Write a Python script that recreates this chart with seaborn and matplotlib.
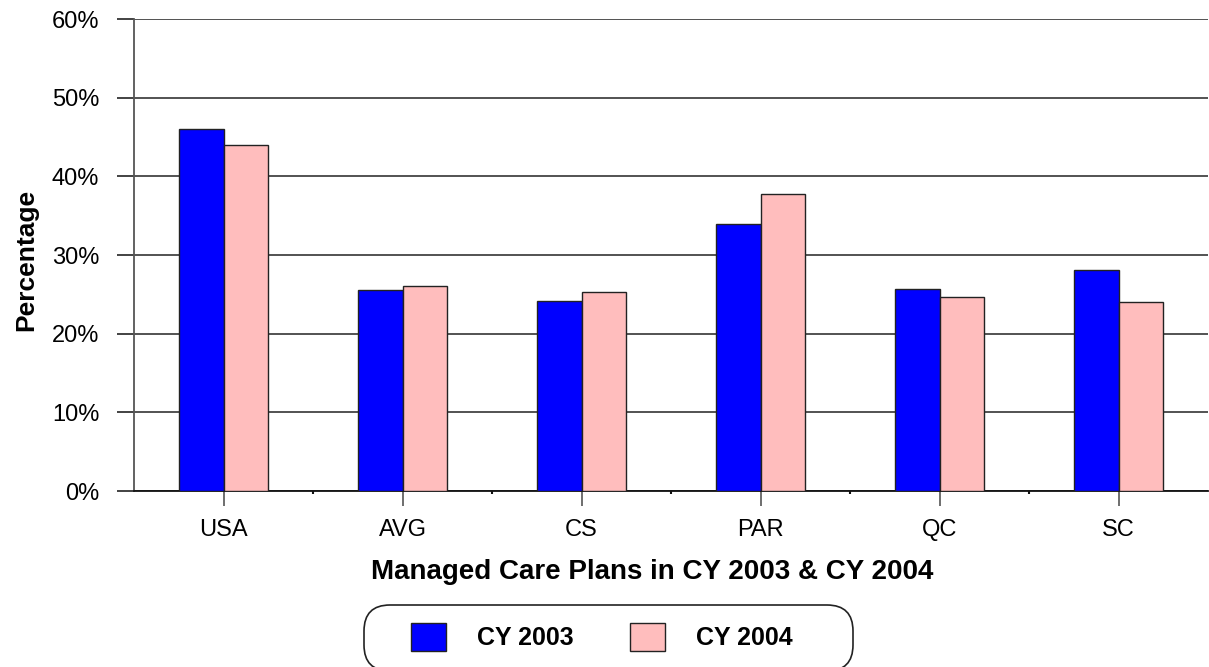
import pandas as pd
import seaborn as sns
import matplotlib.pyplot as plt
from matplotlib.ticker import PercentFormatter, FixedLocator
from matplotlib.patches import FancyBboxPatch
from matplotlib.transforms import IdentityTransform

plans = ["USA", "AVG", "CS", "PAR", "QC", "SC"]
cy2003 = [46.0, 25.6, 24.2, 34.0, 25.7, 28.1]
cy2004 = [44.0, 26.1, 25.3, 37.7, 24.7, 24.0]
years = ["CY 2003", "CY 2004"]

data = pd.DataFrame({
    "plan": plans * 2,
    "year": [years[0]] * len(plans) + [years[1]] * len(plans),
    "pct": cy2003 + cy2004,
})

sns.set_style("white")
plt.rcParams["font.family"] = ["Liberation Sans", "DejaVu Sans"]
plt.rcParams["text.color"] = "black"
plt.rcParams["axes.labelcolor"] = "black"
plt.rcParams["xtick.labelcolor"] = "black"
plt.rcParams["ytick.labelcolor"] = "black"

fig = plt.figure(figsize=(12.09, 6.67), dpi=100)
ax = fig.add_axes([134 / 1209, 176 / 667, 1074 / 1209, 472 / 667])

sns.barplot(data=data, x="plan", y="pct", hue="year", order=plans, hue_order=years,
            palette={"CY 2003": "#0000FF", "CY 2004": "#FFBDBD"},
            width=0.5, edgecolor="#222222", linewidth=1.0, saturation=1,
            ax=ax, zorder=3)

ax.set_ylim(0, 60)
ax.set_xlim(-0.5, 5.5)
ax.yaxis.set_major_locator(FixedLocator(range(0, 61, 10)))
ax.yaxis.set_major_formatter(PercentFormatter(decimals=0))
ax.yaxis.grid(True, color="#444444", linewidth=1.3, zorder=0)
ax.set_axisbelow(True)

for s in ["top", "right"]:
    ax.spines[s].set_visible(False)
ax.spines["left"].set_color("#555555")
ax.spines["left"].set_linewidth(1.3)
ax.spines["bottom"].set_color("#111111")
ax.spines["bottom"].set_linewidth(1.3)

ax.tick_params(axis="y", direction="out", length=12, width=1.2, color="#222222",
               pad=13, labelsize=17, left=True)
ax.tick_params(axis="x", direction="out", length=11, width=1.2, color="#555555",
               pad=9, labelsize=17, bottom=True)
ax.xaxis.set_minor_locator(FixedLocator([0.5, 1.5, 2.5, 3.5, 4.5]))
ax.tick_params(axis="x", which="minor", direction="out", length=2, width=1.5,
               color="#111111", bottom=True)

ax.set_xlabel("Managed Care Plans in CY 2003 & CY 2004", fontsize=20,
              fontweight="bold")
ax.xaxis.set_label_coords(0.4823, -0.145)
ax.set_ylabel("Percentage", fontsize=19, fontweight="bold")
ax.yaxis.set_label_coords(-0.089, 0.49)

handles, labels = ax.get_legend_handles_labels()
ax.get_legend().remove()
leg = fig.legend(handles, labels, ncol=2, loc="center",
                 bbox_to_anchor=(601.5 / 1209, 30 / 667),
                 prop={"weight": "bold", "size": 18},
                 handlelength=1.4, handleheight=1.3, handletextpad=1.24,
                 borderpad=0, borderaxespad=0, columnspacing=2.24,
                 frameon=False)

box = FancyBboxPatch((364, -4), 489, 66, boxstyle="round,pad=0,rounding_size=26",
                     transform=IdentityTransform(), fill=False,
                     edgecolor="#222222", linewidth=1.2)
fig.patches.append(box)

fig.savefig("out.png", dpi=100)
